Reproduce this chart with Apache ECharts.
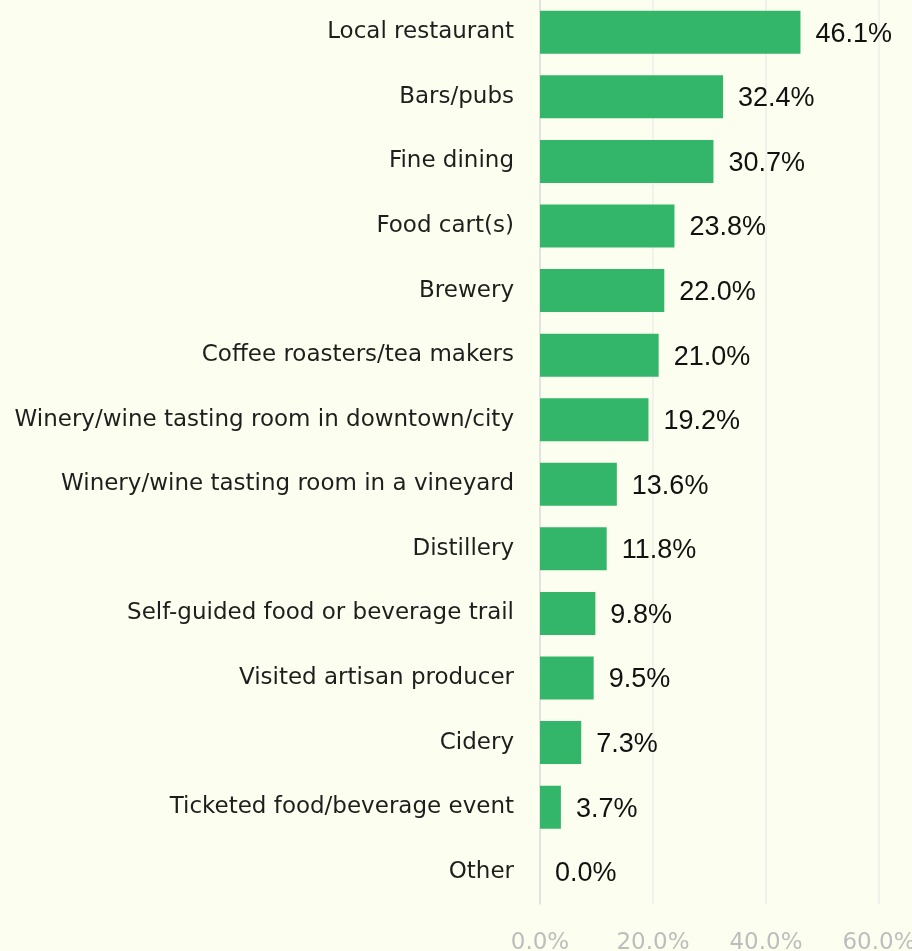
<!DOCTYPE html>
<html><head><meta charset="utf-8">
<script src="https://cdn.jsdelivr.net/npm/echarts@6/dist/echarts.min.js"></script>
<style>html,body{margin:0;padding:0;background:#fcffef;}#c{width:912px;height:951px;}</style>
</head><body><div id="c"></div>
<script>
const categories = ["Local restaurant","Bars/pubs","Fine dining","Food cart(s)","Brewery","Coffee roasters/tea makers","Winery/wine tasting room in downtown/city","Winery/wine tasting room in a vineyard","Distillery","Self-guided food or beverage trail","Visited artisan producer","Cidery","Ticketed food/beverage event","Other"];
const values = [46.1,32.4,30.7,23.8,22.0,21.0,19.2,13.6,11.8,9.8,9.5,7.3,3.7,0.0];
const xTicks = [0,20,40,60];

const chart = echarts.init(document.getElementById('c'));
chart.setOption({
  backgroundColor: '#fcffef',
  animation: false,
  grid: {left: 540, right: 33, top: 0, bottom: 47, containLabel: false, outerBoundsMode: 'none'},
  xAxis: {
    type: 'value', min: xTicks[0], max: xTicks[xTicks.length-1], interval: xTicks[1]-xTicks[0],
    axisLine: {show: false}, axisTick: {show: false},
    splitLine: {show: true, lineStyle: {color: '#eeeeea', width: 1.5}},
    axisLabel: {formatter: v => v.toFixed(1) + '%', color: '#bdbdbd', fontSize: 23, fontFamily: 'DejaVu Sans', margin: 28}
  },
  yAxis: {
    type: 'category', data: categories, inverse: true,
    axisLine: {show: true, lineStyle: {color: '#dcdcdc', width: 1.5}},
    axisTick: {show: false},
    axisLabel: {color: '#1e1e1e', fontSize: 23, fontFamily: 'DejaVu Sans', margin: 26}
  },
  series: [{
    type: 'bar', data: values, barWidth: 43,
    itemStyle: {color: '#33b66a'},
    label: {show: true, position: 'right', distance: 15, offset: [0, 2], formatter: p => p.value.toFixed(1) + '%', color: '#111', fontSize: 27, fontFamily: 'Liberation Sans, Arial'}
  }]
});
</script></body></html>
